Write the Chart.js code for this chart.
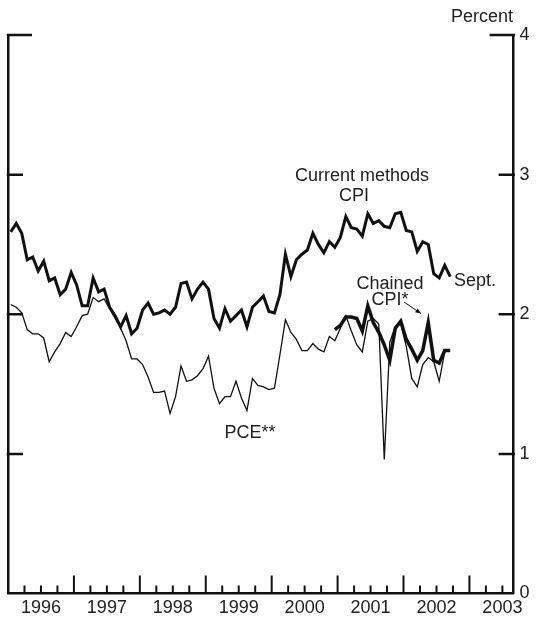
<!DOCTYPE html>
<html>
<head>
<meta charset="utf-8">
<script src="https://cdn.jsdelivr.net/npm/chart.js@4.4.1/dist/chart.umd.min.js"></script>
<style>
  html, body { margin: 0; padding: 0; background: #fff; }
  #wrap { position: relative; width: 537px; height: 619px; }
</style>
</head>
<body>
<div id="wrap"><canvas id="c" width="537" height="619"></canvas></div>
<script>
// ---- Data (monthly, 12-month percent change) ----
const startYear = 1996;           // first month = Jan 1996
const yearLabels = ['1996','1997','1998','1999','2000','2001','2002','2003'];
const yTickValues = [0, 1, 2, 3, 4];

// Current methods CPI, Jan 1996 - Sept 2002
const cpiCurrent = [
  2.59,2.65,2.58,2.39,2.41,2.31,2.38,2.24,2.26,2.14,2.18,2.30,
  2.21,2.06,2.06,2.26,2.16,2.18,2.05,1.99,1.91,1.99,1.86,1.90,
  2.03,2.08,2.00,2.01,2.03,2.00,2.05,2.22,2.23,2.11,2.18,2.23,
  2.18,1.97,1.90,2.04,1.95,1.99,2.03,1.91,2.05,2.09,2.13,2.02,
  2.01,2.14,2.43,2.27,2.39,2.43,2.46,2.58,2.50,2.44,2.52,2.48,
  2.55,2.70,2.62,2.61,2.56,2.72,2.65,2.67,2.63,2.62,2.72,2.73,
  2.60,2.59,2.45,2.52,2.50,2.29,2.26,2.35,2.27
];
// PCE, Jan 1996 - Aug 2002
const pce = [
  2.07,2.05,2.01,1.89,1.86,1.86,1.83,1.66,1.73,1.79,1.87,1.84,
  1.91,1.99,2.00,2.12,2.09,2.11,2.04,1.97,1.90,1.81,1.68,1.68,
  1.64,1.55,1.44,1.44,1.45,1.29,1.41,1.63,1.52,1.53,1.56,1.61,
  1.70,1.47,1.36,1.41,1.41,1.52,1.40,1.31,1.54,1.49,1.48,1.46,
  1.47,1.71,1.96,1.87,1.82,1.74,1.74,1.79,1.75,1.73,1.84,1.81,
  1.90,1.99,1.88,1.78,1.73,1.95,1.97,1.93,0.96,1.80,1.91,1.93,
  1.77,1.54,1.48,1.64,1.69,1.66,1.52,1.73
];
// Chained CPI, Dec 2000 - Sept 2002
const chainedStartMonth = 59;     // months after Jan 1996
const cpiChained = [
  1.89,1.92,1.98,1.98,1.97,1.88,2.06,1.94,1.87,1.78,1.67,1.90,
  1.95,1.82,1.75,1.67,1.74,1.94,1.67,1.65,1.74,1.74
];

function toPoints(arr, offset) {
  return arr.map((v, i) => ({ x: startYear + (offset + i + 0.5) / 12, y: v }));
}

const FONT = '"Liberation Sans", Arial, Helvetica, sans-serif';
const INK = '#111';
const TXT = '#222';

const decorPlugin = {
  id: 'decor',
  afterDraw(chart) {
    const ctx = chart.ctx;
    const xs = chart.scales.x, ys = chart.scales.y;
    const area = chart.chartArea;
    ctx.save();
    ctx.strokeStyle = INK;
    ctx.lineCap = 'butt';
    // x-axis inward ticks: quarters short, years tall
    for (let q = 1; q < (yearLabels.length) * 4; q++) {
      const v = startYear + q / 4;
      if (v >= xs.max) break;
      const px = xs.getPixelForValue(v);
      const major = q % 4 === 0;
      ctx.lineWidth = 2;
      ctx.beginPath();
      ctx.moveTo(px, area.bottom);
      ctx.lineTo(px, area.bottom - (major ? 18 : 8));
      ctx.stroke();
    }
    // y-axis inward ticks on both sides
    yTickValues.forEach(v => {
      if (v === 0) return;
      const py = ys.getPixelForValue(v);
      const len = v === 4 ? 24 : 15;
      ctx.lineWidth = 2.5;
      ctx.beginPath();
      ctx.moveTo(area.left - 1.25, py);
      ctx.lineTo(area.left + len, py);
      ctx.moveTo(area.right + 1.25, py);
      ctx.lineTo(area.right - len, py);
      ctx.stroke();
    });
    // annotations
    ctx.fillStyle = TXT;
    ctx.font = '18px ' + FONT;
    ctx.textBaseline = 'alphabetic';
    ctx.textAlign = 'center';
    ctx.fillText('Percent', 482, 22);
    ctx.fillText('Current methods', 362, 181);
    ctx.fillText('CPI', 354, 201);
    ctx.fillText('Chained', 390, 289);
    ctx.fillText('CPI*', 390, 305);
    ctx.fillText('PCE**', 250, 438);
    ctx.textAlign = 'left';
    ctx.fillText('Sept.', 454, 286);
    // arrow
    const x1 = 404, y1 = 302, x2 = 421, y2 = 313.5;
    ctx.lineWidth = 1;
    ctx.beginPath();
    ctx.moveTo(x1, y1);
    ctx.lineTo(x2, y2);
    ctx.stroke();
    const ang = Math.atan2(y2 - y1, x2 - x1);
    ctx.beginPath();
    ctx.moveTo(x2, y2);
    ctx.lineTo(x2 - 6 * Math.cos(ang - 0.4), y2 - 6 * Math.sin(ang - 0.4));
    ctx.lineTo(x2 - 6 * Math.cos(ang + 0.4), y2 - 6 * Math.sin(ang + 0.4));
    ctx.closePath();
    ctx.fillStyle = INK;
    ctx.fill();
    ctx.restore();
  }
};

const chart = new Chart(document.getElementById('c'), {
  type: 'line',
  data: {
    datasets: [
      { label: 'Current methods CPI', data: toPoints(cpiCurrent, 0),
        borderColor: INK, borderWidth: 3, pointRadius: 0, tension: 0, fill: false },
      { label: 'Chained CPI', data: toPoints(cpiChained, chainedStartMonth),
        borderColor: INK, borderWidth: 3.5, pointRadius: 0, tension: 0, fill: false },
      { label: 'PCE', data: toPoints(pce, 0),
        borderColor: INK, borderWidth: 1.3, pointRadius: 0, tension: 0, fill: false }
    ]
  },
  options: {
    responsive: false,
    animation: false,
    devicePixelRatio: 1,
    layout: { padding: { left: 8, top: 35, right: 7, bottom: 2 } },
    plugins: { legend: { display: false }, tooltip: { enabled: false }, title: { display: false } },
    elements: { line: { borderJoinStyle: 'miter', borderCapStyle: 'butt' } },
    scales: {
      x: {
        type: 'linear',
        min: 1996,
        max: 2003.67,
        afterBuildTicks: (scale) => {
          scale.ticks = yearLabels.map((l, i) => ({ value: startYear + i + 0.5 }));
        },
        ticks: {
          callback: (v, i) => yearLabels[i],
          autoSkip: false, maxRotation: 0, minRotation: 0,
          padding: 6, color: TXT,
          font: { family: FONT, size: 18, lineHeight: 1 }
        },
        grid: { display: false, drawTicks: false },
        border: { display: true, color: INK, width: 2.5 }
      },
      y: {
        type: 'linear',
        position: 'right',
        min: 0, max: 4,
        afterBuildTicks: (scale) => {
          scale.ticks = yTickValues.map(v => ({ value: v }));
        },
        ticks: {
          padding: 6, color: TXT,
          font: { family: FONT, size: 18, lineHeight: 1 }
        },
        grid: { display: false, drawTicks: false },
        border: { display: true, color: INK, width: 2.5 }
      },
      yL: {
        type: 'linear',
        position: 'left',
        min: 0, max: 4,
        ticks: { display: false },
        grid: { display: false, drawTicks: false },
        border: { display: true, color: INK, width: 2.5 }
      }
    }
  },
  plugins: [decorPlugin]
});

// Fit the plot area to the reference frame by tuning the layout padding.
const target = { left: 8, top: 35, right: 513.6, bottom: 593.5 };
for (let k = 0; k < 4; k++) {
  const a = chart.chartArea;
  const p = chart.options.layout.padding;
  p.left += target.left - a.left;
  p.top += target.top - a.top;
  p.right += a.right - target.right;
  p.bottom += a.bottom - target.bottom;
  chart.update();
}
</script>
</body>
</html>
